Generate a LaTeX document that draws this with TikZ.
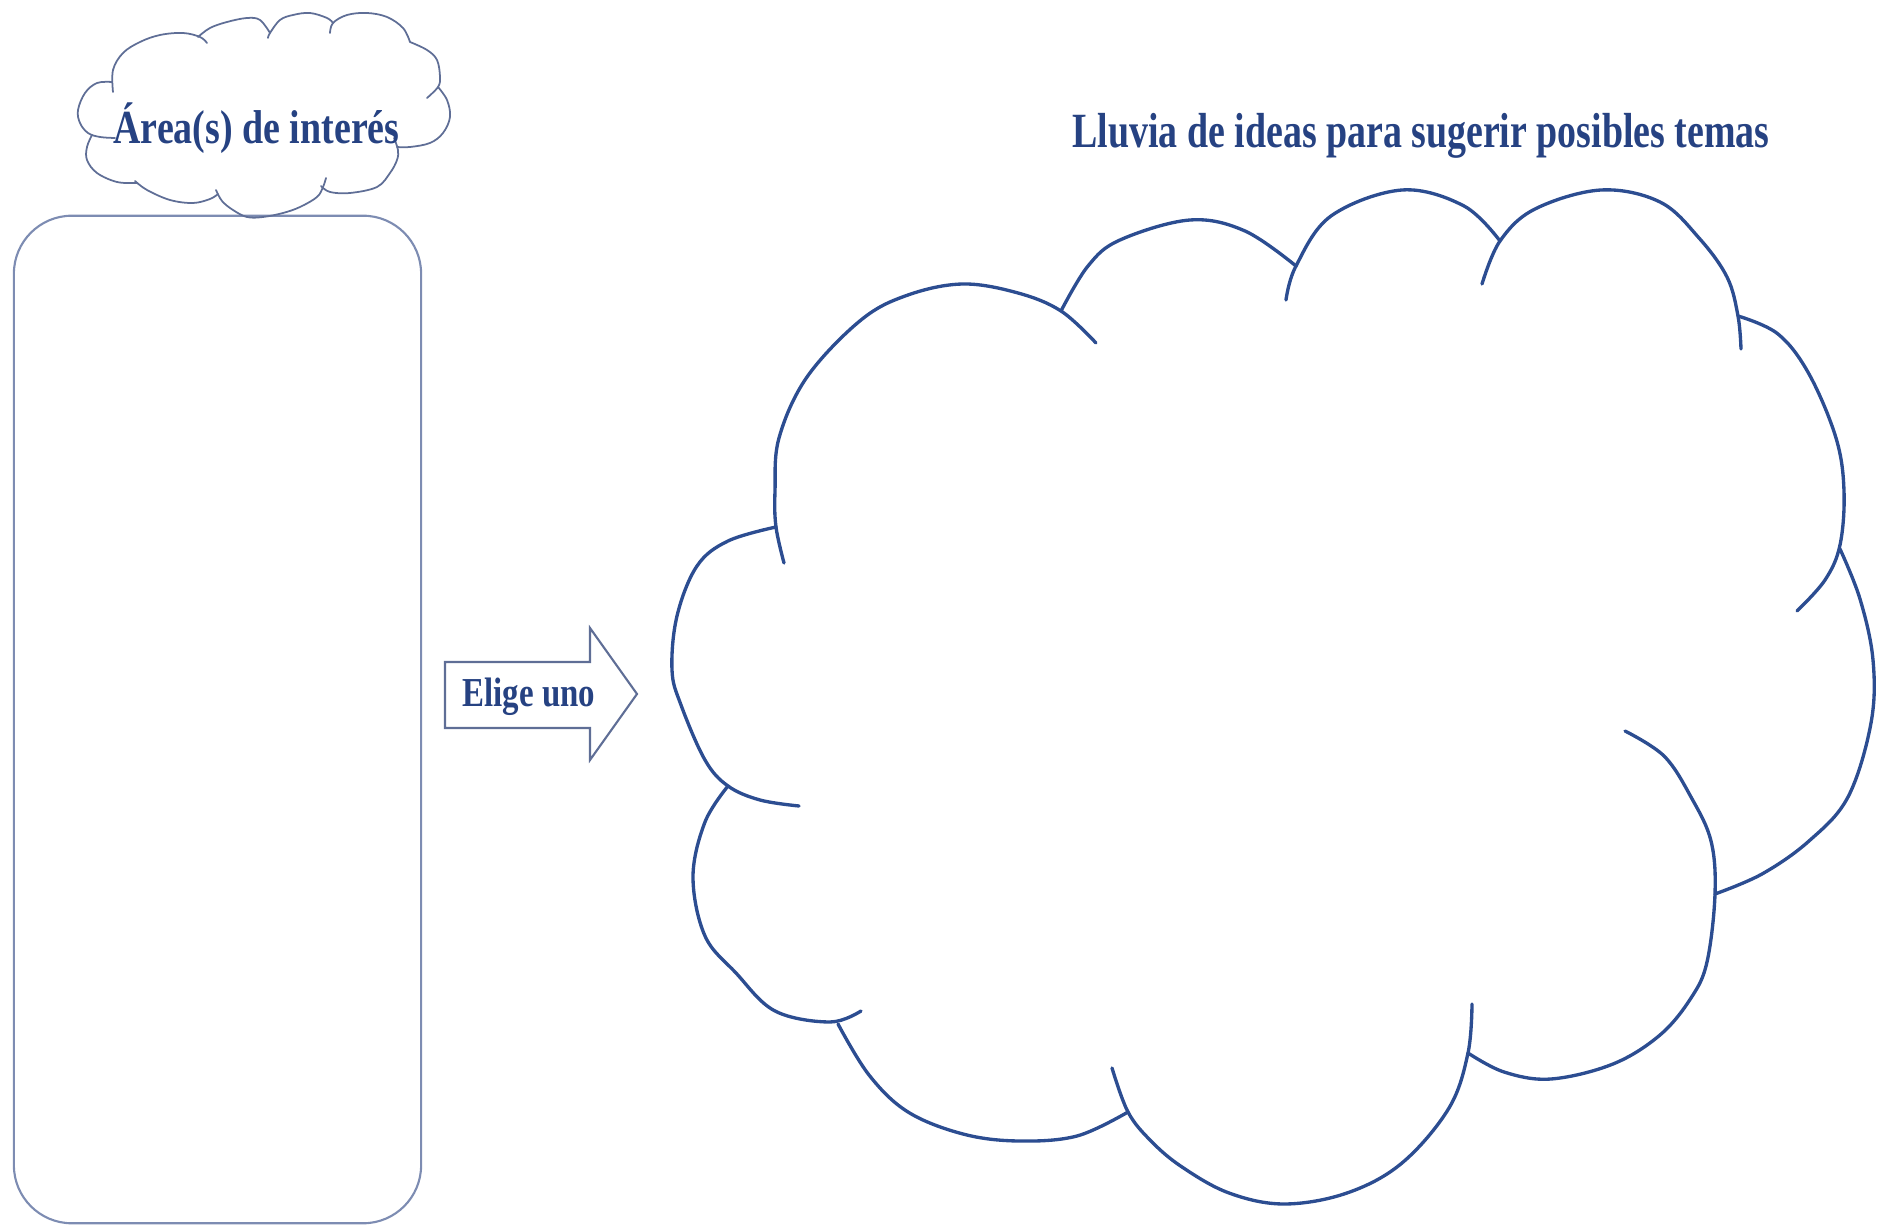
\documentclass[tikz,border=0pt]{standalone}
\usepackage{fontspec}
\newfontfamily\labelfont{Liberation Serif}[FakeStretch=0.8]
\newfontfamily\headfont{Liberation Serif}[FakeStretch=0.77]
\definecolor{CloudBlue}{RGB}{44, 77, 145}
\definecolor{TextBlue}{RGB}{38, 66, 130}
\definecolor{PaleBlue}{RGB}{125, 140, 178}
\definecolor{GreyBlue}{RGB}{95, 110, 150}
\usetikzlibrary{positioning}

\begin{document}
\begin{tikzpicture}[
        x=0.01cm, y=-0.01cm,
        box/.style={rectangle, draw=PaleBlue, line width=0.6pt, rounded corners=0.58cm, minimum width=4.07cm, minimum height=10.07cm, inner sep=0pt},
        title/.style={font=\labelfont\bfseries\fontsize{13.5}{16}\selectfont, text=TextBlue, inner sep=0pt, anchor=base},
        bigcloud/.style={draw=CloudBlue, line width=0.95pt, line cap=round, smooth, tension=0.6},
        smallcloud/.style={draw=GreyBlue, line width=0.5pt, line cap=round, smooth, tension=0.6},
        arrowshape/.style={draw=GreyBlue, line width=0.6pt, line join=miter}
    ]
        \useasboundingbox (0,0) rectangle (1878,1225);

        % Left column - box under the small cloud
        \node[box] (areas) at (217.5, 719.5) {};

        % Small cloud - lobes clockwise from the left
        \draw[smallcloud] plot coordinates {(112,82) (97,83) (85,93) (78,110) (80,123) (88,133) (100,137) (115,138)};
        \draw[smallcloud] plot coordinates {(113,92) (113,70) (123,53) (140,42) (160,35) (183,33) (200,37) (207,43)};
        \draw[smallcloud] plot coordinates {(198,37) (210,28) (227,22) (247,18) (260,20) (270,33)};
        \draw[smallcloud] plot coordinates {(268,38) (270,33) (280,20) (293,15) (310,13) (327,18) (333,23)};
        \draw[smallcloud] plot coordinates {(330,33) (333,23) (347,15) (367,13) (387,17) (403,28) (410,42)};
        \draw[smallcloud] plot coordinates {(410,42) (427,50) (437,60) (440,77) (438,87) (427,98)};
        \draw[smallcloud] plot coordinates {(438,87) (447,100) (450,117) (443,133) (430,143) (410,147) (397,147)};
        \draw[smallcloud] plot coordinates {(394,138) (398,150) (397,160) (390,173) (377,187) (350,193) (330,192) (321,186)};
        \draw[smallcloud] plot coordinates {(216,190) (222,201) (233,210) (247,217) (263,217) (283,213) (300,207) (317,197) (323,187) (326,178)};
        \draw[smallcloud] plot coordinates {(135,181) (147,190) (170,200) (193,203) (210,199) (218,194)};
        \draw[smallcloud] plot coordinates {(92,135) (87,147) (87,160) (97,173) (117,182) (137,183)};
        \node[title] (interes) at (256.5, 144) {Área(s) de interés};

        % Arrow between the two columns
        \draw[arrowshape] (445,662) -- (590,662) -- (590,628) -- (637,694) -- (590,760) -- (590,728) -- (445,728) -- cycle;
        \node[title, font=\labelfont\bfseries\fontsize{11.7}{14}\selectfont] (elige) at (529, 707) {Elige uno};

        % Big cloud - lobes clockwise from the top left
        \node[title, font=\headfont\bfseries\fontsize{14}{17}\selectfont] (temas) at (1421, 148) {Lluvia de ideas para sugerir posibles temas};
        \draw[bigcloud] plot coordinates {(784,563) (776,527) (775,491) (779,438) (807,377) (861,320) (908,295) (963,284) (1018,293) (1061,311) (1096,343)};
        \draw[bigcloud] plot coordinates {(1061,311) (1088,266) (1120,240) (1190,220) (1245,231) (1296,266)};
        \draw[bigcloud] plot coordinates {(1286,300) (1296,266) (1331,216) (1402,190) (1464,206) (1500,241)};
        \draw[bigcloud] plot coordinates {(1482,284) (1500,241) (1535,209) (1601,190) (1660,202) (1699,238) (1727,277) (1738,316) (1741,349)};
        \draw[bigcloud] plot coordinates {(1738,316) (1778,334) (1809,374) (1836,438) (1844,491) (1840,545) (1825,580) (1797,611)};
        \draw[bigcloud] plot coordinates {(1840,549) (1860,599) (1873,660) (1871,723) (1848,797) (1809,841) (1762,874) (1715,894)};
        \draw[bigcloud] plot coordinates {(1625,731) (1664,756) (1691,797) (1711,841) (1715,894) (1707,962) (1691,998) (1660,1035) (1613,1064) (1551,1079) (1504,1072) (1468,1053)};
        \draw[bigcloud] plot coordinates {(1472,1004) (1468,1053) (1449,1108) (1402,1163) (1347,1193) (1284,1204) (1229,1193) (1182,1167) (1151,1141) (1128,1112) (1112,1068)};
        \draw[bigcloud] plot coordinates {(1128,1112) (1077,1136) (1018,1141) (963,1134) (908,1112) (869,1075) (838,1024)};
        \draw[bigcloud] plot coordinates {(728,786) (705,822) (693,877) (705,936) (736,973) (775,1011) (830,1022) (861,1011)};
        \draw[bigcloud] plot coordinates {(776,527) (728,541) (697,566) (677,616) (672,670) (681,705) (705,760) (728,786) (760,800) (799,806)};
    \end{tikzpicture}
\end{document}
